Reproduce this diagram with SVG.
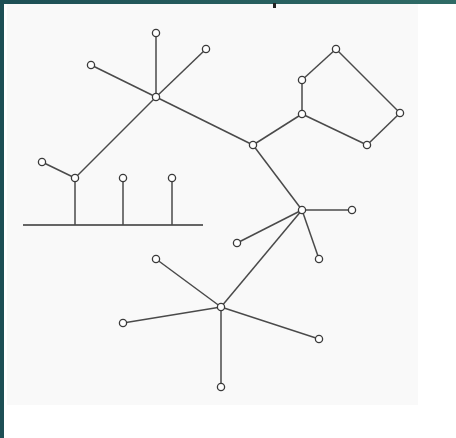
<svg xmlns="http://www.w3.org/2000/svg" width="456" height="438" viewBox="0 0 456 438">
<defs>
<linearGradient id="band" x1="0" y1="0" x2="1" y2="0">
<stop offset="0" stop-color="#1d4f55"/>
<stop offset="1" stop-color="#2f6b66"/>
</linearGradient>
<style>
.e{stroke:#4a4a4a;stroke-width:1.5;fill:none}
.n{fill:#fff;stroke:#3a3a3a;stroke-width:1.3}
</style>
</defs>
<rect x="0" y="0" width="456" height="438" fill="#fff"/>
<rect x="7" y="4" width="411" height="401" fill="#f9f9f9"/>
<rect x="0" y="0" width="456" height="4" fill="url(#band)"/>
<rect x="0" y="0" width="4" height="438" fill="#1d4f55"/>
<rect x="273" y="3" width="3" height="5" fill="#222"/>
<g id="connectors">
<line class="e" x1="23" y1="225" x2="203" y2="225" style="stroke:#333;stroke-width:1.6"/>
<line class="e" x1="75" y1="178" x2="75" y2="225"/>
<line class="e" x1="123" y1="178" x2="123" y2="225"/>
<line class="e" x1="172" y1="178" x2="172" y2="225"/>
<line class="e" x1="75" y1="178" x2="42" y2="162"/>
<line class="e" x1="75" y1="178" x2="156" y2="97"/>
<line class="e" x1="156" y1="97" x2="156" y2="33"/>
<line class="e" x1="156" y1="97" x2="206" y2="49"/>
<line class="e" x1="156" y1="97" x2="91" y2="65"/>
<line class="e" x1="156" y1="97" x2="253" y2="145"/>
<line class="e" x1="253" y1="145" x2="302" y2="114"/>
<line class="e" x1="302" y1="114" x2="302" y2="80"/>
<line class="e" x1="302" y1="80" x2="336" y2="49"/>
<line class="e" x1="336" y1="49" x2="400" y2="113"/>
<line class="e" x1="400" y1="113" x2="367" y2="145"/>
<line class="e" x1="367" y1="145" x2="302" y2="114"/>
<line class="e" x1="253" y1="145" x2="302" y2="210"/>
<line class="e" x1="302" y1="210" x2="352" y2="210"/>
<line class="e" x1="302" y1="210" x2="237" y2="243"/>
<line class="e" x1="302" y1="210" x2="319" y2="259"/>
<line class="e" x1="302" y1="210" x2="221" y2="307"/>
<line class="e" x1="221" y1="307" x2="156" y2="259"/>
<line class="e" x1="221" y1="307" x2="123" y2="323"/>
<line class="e" x1="221" y1="307" x2="319" y2="339"/>
<line class="e" x1="221" y1="307" x2="221" y2="387"/>
</g>
<g id="n1"><circle class="n" cx="42" cy="162" r="3.6"/></g>
<g id="n2"><circle class="n" cx="75" cy="178" r="3.6"/></g>
<g id="n3"><circle class="n" cx="123" cy="178" r="3.6"/></g>
<g id="n4"><circle class="n" cx="172" cy="178" r="3.6"/></g>
<g id="n5"><circle class="n" cx="156" cy="97" r="3.6"/></g>
<g id="n6"><circle class="n" cx="156" cy="33" r="3.6"/></g>
<g id="n7"><circle class="n" cx="206" cy="49" r="3.6"/></g>
<g id="n8"><circle class="n" cx="91" cy="65" r="3.6"/></g>
<g id="n9"><circle class="n" cx="253" cy="145" r="3.6"/></g>
<g id="n10"><circle class="n" cx="302" cy="114" r="3.6"/></g>
<g id="n11"><circle class="n" cx="302" cy="80" r="3.6"/></g>
<g id="n12"><circle class="n" cx="336" cy="49" r="3.6"/></g>
<g id="n13"><circle class="n" cx="400" cy="113" r="3.6"/></g>
<g id="n14"><circle class="n" cx="367" cy="145" r="3.6"/></g>
<g id="n15"><circle class="n" cx="302" cy="210" r="3.6"/></g>
<g id="n16"><circle class="n" cx="352" cy="210" r="3.6"/></g>
<g id="n17"><circle class="n" cx="237" cy="243" r="3.6"/></g>
<g id="n18"><circle class="n" cx="319" cy="259" r="3.6"/></g>
<g id="n19"><circle class="n" cx="221" cy="307" r="3.6"/></g>
<g id="n20"><circle class="n" cx="156" cy="259" r="3.6"/></g>
<g id="n21"><circle class="n" cx="123" cy="323" r="3.6"/></g>
<g id="n22"><circle class="n" cx="319" cy="339" r="3.6"/></g>
<g id="n23"><circle class="n" cx="221" cy="387" r="3.6"/></g>
</svg>
